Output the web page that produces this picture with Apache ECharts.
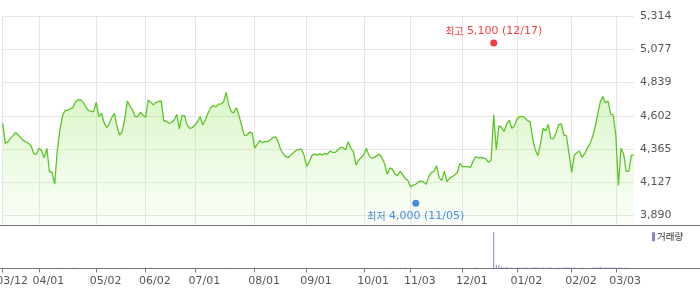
<!DOCTYPE html>
<html><head><meta charset="utf-8">
<script src="https://cdn.jsdelivr.net/npm/echarts@6/dist/echarts.min.js"></script>
<style>html,body{margin:0;padding:0;background:#fff}#c{width:700px;height:289px}</style>
</head><body><div id="c"></div>
<script>
const dates = [
'2025-03-12','2025-03-13','2025-03-14','2025-03-17','2025-03-18','2025-03-19','2025-03-20','2025-03-21','2025-03-24','2025-03-25','2025-03-26','2025-03-27','2025-03-28','2025-03-31',
'2025-04-01','2025-04-02','2025-04-03','2025-04-04','2025-04-07','2025-04-08','2025-04-09','2025-04-10','2025-04-11','2025-04-14','2025-04-15','2025-04-16','2025-04-17','2025-04-18','2025-04-21','2025-04-22','2025-04-23','2025-04-24','2025-04-25','2025-04-28','2025-04-29','2025-04-30',
'2025-05-02','2025-05-07','2025-05-08','2025-05-09','2025-05-12','2025-05-13','2025-05-14','2025-05-15','2025-05-16','2025-05-19','2025-05-20','2025-05-21','2025-05-22','2025-05-23','2025-05-26','2025-05-27','2025-05-28','2025-05-29','2025-05-30',
'2025-06-02','2025-06-04','2025-06-05','2025-06-09','2025-06-10','2025-06-11','2025-06-12','2025-06-13','2025-06-16','2025-06-17','2025-06-18','2025-06-19','2025-06-20','2025-06-23','2025-06-24','2025-06-25','2025-06-26','2025-06-27','2025-06-30',
'2025-07-01','2025-07-02','2025-07-03','2025-07-04','2025-07-07','2025-07-08','2025-07-09','2025-07-10','2025-07-11','2025-07-14','2025-07-15','2025-07-16','2025-07-17','2025-07-18','2025-07-21','2025-07-22','2025-07-23','2025-07-24','2025-07-25','2025-07-28','2025-07-29','2025-07-30','2025-07-31',
'2025-08-01','2025-08-04','2025-08-05','2025-08-06','2025-08-07','2025-08-08','2025-08-11','2025-08-12','2025-08-13','2025-08-14','2025-08-18','2025-08-19','2025-08-20','2025-08-21','2025-08-22','2025-08-25','2025-08-26','2025-08-27','2025-08-28','2025-08-29',
'2025-09-01','2025-09-02','2025-09-03','2025-09-04','2025-09-05','2025-09-08','2025-09-09','2025-09-10','2025-09-11','2025-09-12','2025-09-15','2025-09-16','2025-09-17','2025-09-18','2025-09-19','2025-09-22','2025-09-23','2025-09-24','2025-09-25','2025-09-26','2025-09-29','2025-09-30',
'2025-10-01','2025-10-02','2025-10-10','2025-10-13','2025-10-14','2025-10-15','2025-10-16','2025-10-17','2025-10-20','2025-10-21','2025-10-22','2025-10-23','2025-10-24','2025-10-27','2025-10-28','2025-10-29','2025-10-30','2025-10-31',
'2025-11-03','2025-11-04','2025-11-05','2025-11-06','2025-11-07','2025-11-10','2025-11-11','2025-11-12','2025-11-13','2025-11-14','2025-11-17','2025-11-18','2025-11-19','2025-11-20','2025-11-21','2025-11-24','2025-11-25','2025-11-26','2025-11-27','2025-11-28',
'2025-12-01','2025-12-02','2025-12-03','2025-12-04','2025-12-05','2025-12-08','2025-12-09','2025-12-10','2025-12-11','2025-12-12','2025-12-15','2025-12-16','2025-12-17','2025-12-18','2025-12-19','2025-12-22','2025-12-23','2025-12-24','2025-12-26','2025-12-29','2025-12-30',
'2026-01-02','2026-01-05','2026-01-06','2026-01-07','2026-01-08','2026-01-09','2026-01-12','2026-01-13','2026-01-14','2026-01-15','2026-01-16','2026-01-19','2026-01-20','2026-01-21','2026-01-22','2026-01-23','2026-01-26','2026-01-27','2026-01-28','2026-01-29','2026-01-30',
'2026-02-02','2026-02-03','2026-02-04','2026-02-05','2026-02-06','2026-02-09','2026-02-10','2026-02-11','2026-02-12','2026-02-13','2026-02-19','2026-02-20','2026-02-23','2026-02-24','2026-02-25','2026-02-26','2026-02-27',
'2026-03-03','2026-03-04','2026-03-05','2026-03-06','2026-03-09','2026-03-10','2026-03-11','2026-03-12'
];
const prices = [
4548,4405,4418,4441,4462,4484,4465,4445,4425,4415,4405,4385,4330,4327,4370,4353,4303,4370,4203,4198,
4115,4350,4500,4600,4640,4643,4651,4660,4700,4717,4715,4698,4665,4639,4636,4630,4698,4596,4620,4555,
4517,4545,4590,4620,4524,4465,4489,4584,4708,4670,4643,4596,4596,4627,4608,4591,4715,4698,4680,4698,
4703,4708,4565,4565,4548,4555,4572,4612,4508,4603,4603,4536,4513,4517,4536,4560,4596,4536,4572,4620,
4658,4677,4665,4685,4686,4700,4769,4680,4630,4625,4660,4600,4530,4462,4465,4485,4480,4372,4400,4425,
4410,4420,4418,4430,4448,4452,4420,4360,4332,4310,4305,4325,4340,4356,4362,4365,4320,4239,4275,4318,
4330,4322,4332,4322,4334,4327,4351,4341,4341,4358,4377,4375,4360,4417,4370,4346,4251,4285,4305,4325,
4370,4318,4300,4305,4318,4327,4303,4260,4184,4230,4222,4186,4175,4208,4180,4154,4140,4094,4108,4113,
4132,4136,4131,4113,4168,4199,4205,4246,4161,4140,4208,4132,4156,4168,4180,4199,4263,4239,4239,4239,
4232,4275,4310,4303,4303,4303,4294,4270,4287,4610,4360,4530,4520,4489,4545,4572,4513,4530,4584,4596,
4598,4586,4568,4560,4440,4360,4318,4400,4513,4495,4541,4440,4437,4480,4540,4545,4465,4460,4330,4199,
4320,4340,4350,4305,4330,4370,4400,4450,4520,4610,4700,4739,4695,4708,4615,4608,4465,4105,4370,4330,4205,4205,4322,4322
];
const volumes = [
0.5,0.5,0.5,0.5,0.5,0.5,0.5,0.5,0.5,0.5,0.5,0.5,0.5,0.5,0.5,0.5,0.5,0.5,0.5,0.5,
0.5,0.5,2,2,0.5,0.5,0.5,2,1.5,0.5,0.5,0.5,0.5,0.5,0.5,0.5,0.5,0.5,0.5,0.5,
0.5,0.5,0.5,0.5,0.5,0.5,0.5,0.5,1.5,0.5,0.5,0.5,0.5,0.5,0.5,1.5,0.5,1.5,0.5,0.5,
0.5,0.5,0.5,0.5,0.5,0.5,0.5,0.5,0.5,0.5,0.5,0.5,0.5,0.5,0.5,0.5,0.5,0.5,0.5,0.5,
0.5,0.5,0.5,0.5,0.5,0.5,1.5,0.5,0.5,0.5,0.5,0.5,0.5,0.5,0.5,0.5,0.5,1.5,0.5,0.5,
0.5,0.5,0.5,0.5,0.5,0.5,0.5,0.5,0.5,0.5,0.5,0.5,0.5,0.5,0.5,0.5,0.5,0.5,0.5,0.5,
0.5,0.5,0.5,0.5,0.5,0.5,0.5,0.5,0.5,0.5,0.5,0.5,0.5,0.5,0.5,0.5,0.5,0.5,0.5,0.5,
0.5,0.5,0.5,0.5,0.5,0.5,0.5,0.5,2,0.5,0.5,0.5,0.5,0.5,0.5,2.4,0.5,0.5,0.5,0.5,
0.5,0.5,0.5,0.5,0.5,0.5,0.5,2,0.5,0.5,0.5,0.5,0.5,0.5,0.5,0.5,0.5,0.5,0.5,0.5,
0.5,0.5,2.4,0.5,0.5,0.5,0.5,0.5,0.5,86,9,9,4,2.4,4,2.4,2.4,1,2.4,2.4,
2.4,2.4,2.4,1,2.4,2.4,2.4,1,2.4,1,2.4,2.4,1,1,2.4,1,2.4,2.4,2.4,2.4,
2.4,1,1,2.4,1,1,1,2.4,2.4,2.4,4,2.4,2.4,2.4,2.4,2.4,2.4,2.4,2.4,1,2.4,1,1,1
];
const tickDates = ['2025-03-12','2025-04-01','2025-05-02','2025-06-02','2025-07-01','2025-08-01','2025-09-01','2025-10-01','2025-11-03','2025-12-01','2026-01-02','2026-02-02','2026-03-03'];
const yTicks = [3890, 4127.33, 4364.67, 4602, 4839.33, 5076.67, 5314];
const highPoint = ['2025-12-17', 5100];
const lowPoint = ['2025-11-05', 4000];

const FONT = '"DejaVu Sans", "Noto Sans CJK KR", sans-serif';
const isTick = (i, v) => tickDates.indexOf(v) >= 0;
const fmtDate = v => v.slice(5).replace('-', '/');
const fmtNum = v => Math.round(v).toLocaleString('en-US');

const chart = echarts.init(document.getElementById('c'), null, {renderer: 'canvas'});
chart.setOption({
  animation: false,
  textStyle: {fontFamily: FONT},
  grid: [
    {left: 2.7, right: 66, top: 16, height: 209.3, containLabel: false, outerBoundsMode: 'none'},
    {left: 2.7, right: 66, top: 226, height: 42.5, containLabel: false, outerBoundsMode: 'none'}
  ],
  legend: {
    data: ['거래량'], left: 652, top: 232, padding: 0,
    icon: 'rect', itemWidth: 3, itemHeight: 9,
    textStyle: {fontSize: 9.5, color: '#333', fontFamily: '"Noto Sans CJK KR", sans-serif', padding: [0, 0, 0, -3]}
  },
  xAxis: [
    {type: 'category', gridIndex: 0, data: dates, boundaryGap: false,
     axisLine: {show: false}, axisTick: {show: false}, axisLabel: {show: false},
     splitLine: {show: true, interval: isTick, lineStyle: {color: '#e6e6e6', width: 1}}},
    {type: 'category', gridIndex: 1, data: dates, boundaryGap: false,
     axisLine: {show: true, lineStyle: {color: '#6e7381', width: 1}},
     axisTick: {show: true, interval: isTick, length: 4, lineStyle: {color: '#777', width: 1}},
     axisLabel: {interval: isTick, formatter: fmtDate, color: '#555', fontSize: 11, fontFamily: FONT,
                 margin: 7, align: 'left', padding: [0, 0, 0, -6.5],
                 showMinLabel: true, showMaxLabel: true, hideOverlap: false},
     splitLine: {show: false}}
  ],
  yAxis: [
    {type: 'value', gridIndex: 0, position: 'right', min: 3821, max: 5314,
     axisLine: {show: false},
     axisTick: {show: false, customValues: yTicks},
     axisLabel: {customValues: yTicks, formatter: fmtNum, color: '#555', fontSize: 11, fontFamily: FONT, margin: 6},
     splitLine: {show: true, lineStyle: {color: '#e6e6e6', width: 1}}},
    {type: 'value', gridIndex: 1, min: 0, max: 100, show: false, splitLine: {show: false}}
  ],
  series: [
    {type: 'line', name: '종가', xAxisIndex: 0, yAxisIndex: 0, data: prices,
     symbol: 'none', lineStyle: {color: '#5cc526', width: 1.3},
     areaStyle: {origin: 'start', color: new echarts.graphic.LinearGradient(0, 0, 0, 1, [
       {offset: 0, color: 'rgba(150,232,100,0.52)'},
       {offset: 1, color: 'rgba(185,240,150,0.1)'}
     ])}},
    {type: 'bar', name: '거래량', xAxisIndex: 1, yAxisIndex: 1, data: volumes,
     barWidth: 1, itemStyle: {color: '#8f7fc6'}},
    {type: 'scatter', name: '최고', xAxisIndex: 0, yAxisIndex: 0, data: [highPoint],
     symbolSize: 7, symbolOffset: [0, -3], itemStyle: {color: '#f20d12'}, z: 5,
     label: {show: true, position: 'top', distance: 3, color: '#f20d12', fontSize: 11, fontFamily: FONT,
             formatter: p => '{k|최고} ' + fmtNum(p.value[1]) + ' (' + fmtDate(p.value[0]) + ')',
             rich: {k: {fontSize: 10, color: '#f20d12', fontFamily: '"Noto Sans CJK KR", sans-serif'}}}},
    {type: 'scatter', name: '최저', xAxisIndex: 0, yAxisIndex: 0, data: [lowPoint],
     symbolSize: 7, symbolOffset: [0, 3], itemStyle: {color: '#1b6fd6'}, z: 5,
     label: {show: true, position: 'bottom', distance: 4, color: '#1b6fd6', fontSize: 11, fontFamily: FONT,
             formatter: p => '{k|최저} ' + fmtNum(p.value[1]) + ' (' + fmtDate(p.value[0]) + ')',
             rich: {k: {fontSize: 10, color: '#1b6fd6', fontFamily: '"Noto Sans CJK KR", sans-serif'}}}}
  ],
  graphic: [
    {type: 'line', silent: true, z: 100, shape: {x1: 0, y1: 225.5, x2: 700, y2: 225.5}, style: {stroke: '#6e7381', lineWidth: 1}},
    {type: 'line', silent: true, z: 100, shape: {x1: 0, y1: 268.5, x2: 700, y2: 268.5}, style: {stroke: '#6e7381', lineWidth: 1}}
  ]
});
</script>
</body></html>
